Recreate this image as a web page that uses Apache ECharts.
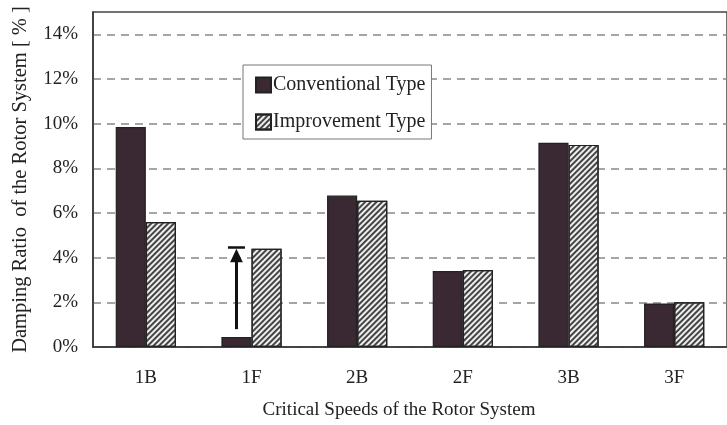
<!DOCTYPE html>
<html>
<head>
<meta charset="utf-8">
<script src="https://cdn.jsdelivr.net/npm/echarts@6/dist/echarts.min.js"></script>
<style>
  html, body { margin: 0; padding: 0; background: #fff; }
  #chart { width: 727px; height: 425px; }
</style>
</head>
<body>
<div id="chart"></div>
<script>
// data
var categories = ["1B", "1F", "2B", "2F", "3B", "3F"];
var conventional = [9.85, 0.45, 6.78, 3.4, 9.14, 1.95];
var improvement = [5.6, 4.4, 6.55, 3.45, 9.05, 2.0];
var yTicks = [0, 2, 4, 6, 8, 10, 12, 14];
// arrow on 1F: from / to (in %)
var arrowFrom = 0.8;
var arrowTo = 4.15;

var serif = "Liberation Serif, Times New Roman, serif";
var chart = echarts.init(document.getElementById("chart"));

var option = {
  backgroundColor: "#fff",
  animation: false,
  textStyle: { fontFamily: serif, color: "#222" },
  grid: {
    left: 93,
    top: 12,
    right: -6,
    bottom: 77,
    show: true,
    borderColor: "#444",
    borderWidth: 1.5
  },
  legend: {
    orient: "vertical",
    left: 243,
    top: 65,
    icon: "rect",
    itemWidth: 15,
    itemHeight: 15,
    itemGap: 17,
    padding: [10, 6, 7, 12],
    borderColor: "#777",
    borderWidth: 1,
    backgroundColor: "#fff",
    textStyle: { fontFamily: serif, fontSize: 20, color: "#222", padding: [0, 0, 0, -3] },
    data: ["Conventional Type", "Improvement Type"]
  },
  xAxis: {
    type: "category",
    data: categories,
    axisLine: { lineStyle: { color: "#333", width: 1.5 } },
    axisTick: { inside: true, length: 5, lineStyle: { color: "#555" } },
    axisLabel: { margin: 22, fontSize: 19, color: "#222", fontFamily: serif },
    name: "Critical Speeds of the Rotor System",
    nameLocation: "middle",
    nameGap: 54,
    nameTextStyle: { fontSize: 19, color: "#222", fontFamily: serif, padding: [0, 22, 0, 0] }
  },
  yAxis: {
    type: "value",
    min: 0,
    max: 15,
    interval: 2,
    axisLine: { show: true, lineStyle: { color: "#333", width: 1.5 } },
    axisTick: { show: false },
    axisLabel: {
      margin: 15,
      fontSize: 19,
      color: "#222",
      fontFamily: serif,
      showMaxLabel: false,
      formatter: function (v) { return yTicks.indexOf(v) >= 0 ? v + "%" : ""; }
    },
    splitLine: {
      show: true,
      showMaxLine: false,
      lineStyle: { color: "#888", type: [8, 6], width: 1.5 }
    },
    name: "Damping Ratio  of the Rotor System [ % ]",
    nameLocation: "middle",
    nameGap: 62,
    nameTextStyle: { fontSize: 20.5, color: "#222", fontFamily: serif }
  },
  series: [
    {
      name: "Conventional Type",
      type: "bar",
      data: conventional,
      barGap: "0%",
      barCategoryGap: "43%",
      itemStyle: { color: "#3a2833", borderColor: "#222", borderWidth: 1.2 },
      markLine: {
        silent: true,
        symbol: ["none", "path://M0 0H20V2.5H0Z M10 2.5L2.5 16H17.5Z"],
        symbolSize: [17, 16],
        symbolRotate: 0,
        label: { show: false },
        lineStyle: { color: "#111", width: 3, type: "solid" },
        data: [[{ coord: ["1F", arrowFrom] }, { coord: ["1F", arrowTo] }]]
      }
    },
    {
      name: "Improvement Type",
      type: "bar",
      data: improvement,
      itemStyle: {
        color: "#eeeeee",
        borderColor: "#222",
        borderWidth: 1.2,
        decal: {
          symbol: "rect",
          symbolSize: 1,
          dashArrayX: [1, 0],
          dashArrayY: [1.6, 2],
          rotation: -Math.PI / 4,
          color: "#444"
        }
      }
    }
  ]
};

chart.setOption(option);
</script>
</body>
</html>
